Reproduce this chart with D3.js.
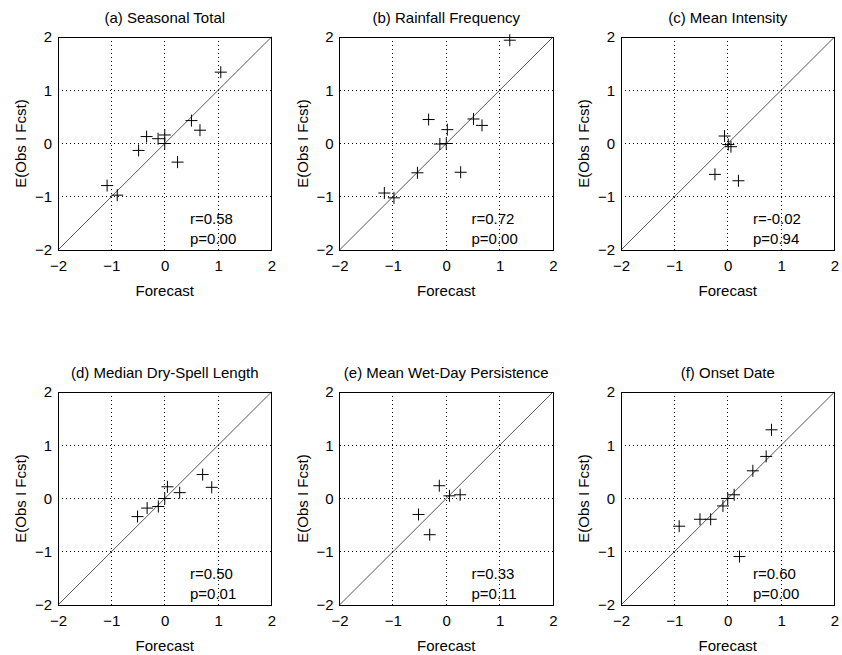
<!DOCTYPE html>
<html>
<head>
<meta charset="utf-8">
<script src="https://cdn.jsdelivr.net/npm/d3@7"></script>
<style>
  html, body { margin: 0; padding: 0; background: #fff; }
  text { font-family: "Liberation Sans", Arial, Helvetica, sans-serif; fill: #000; }
</style>
</head>
<body>
<svg id="chart" width="842" height="655"></svg>
<script>
// ---- Data ----
const titles = [
  "(a) Seasonal Total",
  "(b) Rainfall Frequency",
  "(c) Mean Intensity",
  "(d) Median Dry-Spell Length",
  "(e) Mean Wet-Day Persistence",
  "(f) Onset Date"
];
const rValues = ["0.58", "0.72", "-0.02", "0.50", "0.33", "0.60"];
const pValues = ["0.00", "0.00", "0.94", "0.01", "0.11", "0.00"];

const forecastA = [1.05, 0.50, 0.66, -0.34, -0.125, 0.00, 0.00, -0.49, 0.24, -1.08, -0.89];
const observedA = [1.34, 0.43, 0.25, 0.13, 0.09, 0.16, 0.00, -0.13, -0.35, -0.79, -0.97];

const forecastB = [1.19, -0.33, 0.51, 0.67, 0.02, -0.12, 0.00, 0.27, -0.54, -1.16, -0.98];
const observedB = [1.94, 0.45, 0.46, 0.34, 0.26, -0.01, 0.00, -0.54, -0.55, -0.93, -1.02];

const forecastC = [-0.06, 0.01, 0.06, -0.24, 0.20];
const observedC = [0.14, -0.02, -0.06, -0.58, -0.70];

const forecastD = [0.71, 0.88, 0.05, 0.28, 0.00, -0.12, -0.33, -0.51];
const observedD = [0.45, 0.21, 0.22, 0.11, 0.00, -0.15, -0.18, -0.34];

const forecastE = [-0.13, 0.06, 0.26, -0.52, -0.31];
const observedE = [0.24, 0.05, 0.07, -0.30, -0.68];

const forecastF = [0.82, 0.72, 0.47, 0.12, 0.00, -0.09, -0.32, -0.52, -0.91, 0.22];
const observedF = [1.29, 0.79, 0.52, 0.07, 0.00, -0.14, -0.39, -0.39, -0.52, -1.09];

const tickValues = [-2, -1, 0, 1, 2];
const axisDomain = [-2, 2];
const xLabel = "Forecast";
const yLabel = "E(Obs I Fcst)";

const forecasts = [forecastA, forecastB, forecastC, forecastD, forecastE, forecastF];
const observeds = [observedA, observedB, observedC, observedD, observedE, observedF];

// ---- Layout ----
const svg = d3.select("#chart");
const colLeft = [58, 339.5, 621];
const rowTop = [37, 392];
const W = 213.5, H = 213;

titles.forEach((title, i) => {
  const left = colLeft[i % 3], top = rowTop[Math.floor(i / 3)];
  const g = svg.append("g").attr("transform", `translate(${left},${top})`);
  const x = d3.scaleLinear().domain(axisDomain).range([0, W]);
  const y = d3.scaleLinear().domain(axisDomain).range([H, 0]);

  // grid
  g.append("g").selectAll("line.gx")
    .data(tickValues.slice(1, -1)).join("line")
    .attr("x1", d => x(d)).attr("x2", d => x(d))
    .attr("y1", 0).attr("y2", H)
    .attr("stroke", "#000").attr("stroke-width", 1)
    .attr("stroke-dasharray", "1,3").attr("shape-rendering", "crispEdges");
  g.append("g").selectAll("line.gy")
    .data(tickValues.slice(1, -1)).join("line")
    .attr("y1", d => y(d)).attr("y2", d => y(d))
    .attr("x1", 0).attr("x2", W)
    .attr("stroke", "#000").attr("stroke-width", 1)
    .attr("stroke-dasharray", "1,3").attr("shape-rendering", "crispEdges");

  // diagonal 1:1
  g.append("line")
    .attr("x1", x(-2)).attr("y1", y(-2)).attr("x2", x(2)).attr("y2", y(2))
    .attr("stroke", "#555").attr("stroke-width", 1);

  // axes
  const xAxis = d3.axisBottom(x).tickValues(tickValues).tickSize(0).tickPadding(10).tickFormat(d3.format("d"));
  const yAxis = d3.axisLeft(y).tickValues(tickValues).tickSize(0).tickPadding(6).tickFormat(d3.format("d"));
  const gx = g.append("g").attr("transform", `translate(0,${H})`).call(xAxis);
  const gy = g.append("g").call(yAxis);
  [gx, gy].forEach(a => {
    a.select(".domain").remove();
    a.selectAll("text").style("font-size", "15px")
      .style("font-family", '"Liberation Sans", Arial, sans-serif');
  });
  gx.selectAll("text").attr("dy", "0.71em");

  // frame
  g.append("rect").attr("x", 0).attr("y", 0).attr("width", W).attr("height", H)
    .attr("fill", "none").attr("stroke", "#000").attr("stroke-width", 1)
    .attr("shape-rendering", "crispEdges");

  // points as '+'
  const pts = forecasts[i].map((f, k) => [f, observeds[i][k]]);
  const s = 6;
  const pg = g.append("g").selectAll("g.pt").data(pts).join("g")
    .attr("transform", d => `translate(${x(d[0])},${y(d[1])})`);
  pg.append("line").attr("x1", -s).attr("x2", s).attr("y1", 0).attr("y2", 0)
    .attr("stroke", "#000").attr("stroke-width", 1);
  pg.append("line").attr("y1", -s).attr("y2", s).attr("x1", 0).attr("x2", 0)
    .attr("stroke", "#000").attr("stroke-width", 1);

  // title
  g.append("text").attr("x", W / 2).attr("y", -14)
    .attr("text-anchor", "middle").style("font-size", "15px").text(title);

  // x label
  g.append("text").attr("x", W / 2).attr("y", H + 46)
    .attr("text-anchor", "middle").style("font-size", "15px").text(xLabel);

  // y label
  g.append("text").attr("transform", `translate(-32,${H / 2}) rotate(-90)`)
    .attr("text-anchor", "middle").style("font-size", "15px").text(yLabel);

  // stats
  g.append("text").attr("x", 132).attr("y", H - 26)
    .style("font-size", "15px").text("r=" + rValues[i]);
  g.append("text").attr("x", 132).attr("y", H - 6)
    .style("font-size", "15px").text("p=" + pValues[i]);
});
</script>
</body>
</html>
